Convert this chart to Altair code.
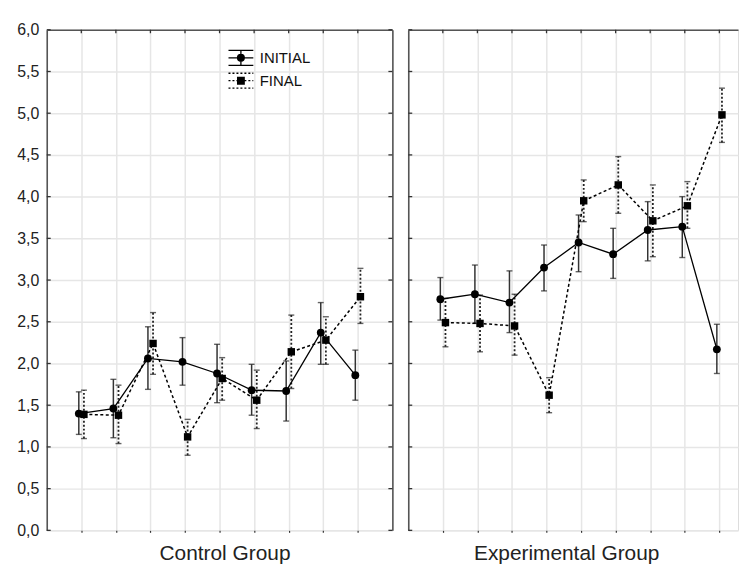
import altair as alt
import pandas as pd

# ---------------- data ----------------
steps = [1, 2, 3, 4, 5, 6, 7, 8, 9]
groups = ["Control Group", "Experimental Group"]
series_names = ["INITIAL", "FINAL"]

ctrl_init_mean = [1.40, 1.46, 2.06, 2.02, 1.88, 1.68, 1.67, 2.37, 1.86]
ctrl_init_lo = [1.15, 1.11, 1.69, 1.74, 1.53, 1.38, 1.31, 1.99, 1.56]
ctrl_init_hi = [1.66, 1.81, 2.44, 2.31, 2.23, 1.99, 2.03, 2.73, 2.16]

ctrl_final_mean = [1.39, 1.38, 2.24, 1.12, 1.82, 1.56, 2.14, 2.28, 2.80]
ctrl_final_lo = [1.10, 1.04, 1.87, 0.90, 1.56, 1.22, 1.70, 1.99, 2.48]
ctrl_final_hi = [1.68, 1.74, 2.61, 1.33, 2.07, 1.92, 2.58, 2.56, 3.14]

exp_init_mean = [2.77, 2.83, 2.73, 3.15, 3.45, 3.31, 3.60, 3.64, 2.17]
exp_init_lo = [2.52, 2.48, 2.37, 2.87, 3.10, 3.02, 3.23, 3.27, 1.88]
exp_init_hi = [3.03, 3.18, 3.11, 3.42, 3.78, 3.62, 3.94, 4.00, 2.47]

exp_final_mean = [2.49, 2.48, 2.45, 1.62, 3.95, 4.14, 3.71, 3.89, 4.98]
exp_final_lo = [2.20, 2.14, 2.10, 1.41, 3.70, 3.80, 3.28, 3.62, 4.65]
exp_final_hi = [2.78, 2.82, 2.83, 1.83, 4.20, 4.48, 4.14, 4.18, 5.30]

y_ticks = [0, 0.5, 1, 1.5, 2, 2.5, 3, 3.5, 4, 4.5, 5, 5.5, 6]


def frame(group, series, mean, lo, hi):
    return pd.DataFrame({"group": group, "series": series, "step": steps,
                         "mean": mean, "lo": lo, "hi": hi})


df = pd.concat([
    frame(groups[0], "INITIAL", ctrl_init_mean, ctrl_init_lo, ctrl_init_hi),
    frame(groups[0], "FINAL", ctrl_final_mean, ctrl_final_lo, ctrl_final_hi),
    frame(groups[1], "INITIAL", exp_init_mean, exp_init_lo, exp_init_hi),
    frame(groups[1], "FINAL", exp_final_mean, exp_final_lo, exp_final_hi),
], ignore_index=True)

xtick_df = pd.DataFrame({"step": steps})
ytick_df = pd.DataFrame({"v": y_ticks})

# ---------------- styling ----------------
FONT = "Liberation Sans"
GRID = "#e6e6e6"
DOM = "#555555"
STEP_PX = 34.8


def dotted(y, x0=-1.25, x1=1.25, d=0.2, g=0.2):
    parts = []
    x = x0
    while x < x1 - 1e-9:
        parts.append(f"M{x:.2f},{y}H{min(x + d, x1):.2f}")
        x += d + g
    return "".join(parts)


def hatch_circle(r=0.34, s=0.08):
    parts = [f"M{-r},0A{r},{r},0,1,0,{r},0A{r},{r},0,1,0,{-r},0Z"]
    y = -r + 0.04
    while y < r:
        h = max(r * r - y * y, 0) ** 0.5
        parts.append(f"M{-h:.3f},{y:.3f}H{h:.3f}")
        y += s
    return "".join(parts)


def hatch_square(r=0.33, s=0.08):
    parts = [f"M{-r},{-r}H{r}V{r}H{-r}Z"]
    y = -r
    while y <= r + 1e-9:
        parts.append(f"M{-r},{y:.3f}H{r}")
        y += s
    return "".join(parts)


INIT_PATH = ("M-1.25,-0.75H1.25M-1.25,0.75H1.25M-1.25,0H1.25M0,-0.75V0.75"
             + hatch_circle())
FINAL_PATH = (dotted(-0.75) + dotted(0) + dotted(0.75) + hatch_square())


def panel(group, width, first, title_x):
    xmax = width / STEP_PX
    base = alt.Chart(df).transform_filter(
        alt.datum.group == group
    ).transform_calculate(
        xp="datum.step + (datum.series == 'INITIAL' ? -0.072 : 0.076)"
    )
    xs = alt.Scale(domain=[0, xmax], nice=False, zero=False)
    ys = alt.Scale(domain=[0, 6], nice=False)

    xaxis = alt.Axis(values=steps, labels=False, ticks=True, tickSize=2,
                     tickColor="#333", tickWidth=1.2, domain=False,
                     grid=True, gridColor=GRID, gridWidth=1.5,
                     title=group, titleFont=FONT, titleFontSize=21,
                     titleFontWeight="normal", titleColor="#222",
                     titlePadding=10, titleX=title_x)
    yaxis = alt.Axis(values=y_ticks, labels=first, ticks=False,
                     labelExpr="replace(format(datum.value, '.1f'), '.', ',')",
                     labelFont=FONT, labelFontSize=16, labelColor="#222",
                     labelPadding=8, domain=True, domainColor=DOM,
                     domainWidth=1.6, grid=True, gridColor=GRID,
                     gridWidth=1.5, title=None)

    X0 = alt.X("xp:Q", scale=xs, axis=None)
    Y0 = alt.Y("mean:Q", scale=ys, axis=None)

    ini = base.transform_filter(alt.datum.series == "INITIAL")
    fin = base.transform_filter(alt.datum.series == "FINAL")

    # error bars
    bar_i = ini.mark_rule(color="#333", strokeWidth=1.5).encode(
        x=alt.X("xp:Q", scale=xs, axis=xaxis),
        y=alt.Y("lo:Q", scale=ys, axis=yaxis), y2="hi:Q")
    bar_f = fin.mark_rule(color="#222", strokeWidth=1.8, strokeDash=[2, 2]).encode(
        x=X0, y=alt.Y("lo:Q", scale=ys, axis=None), y2="hi:Q")
    caps = []
    for src in (ini, fin):
        for fld in ("lo", "hi"):
            caps.append(src.mark_tick(orient="horizontal", size=6, thickness=1.4,
                                      color="#222").encode(
                x=X0, y=alt.Y(f"{fld}:Q", scale=ys, axis=None)))

    line_i = ini.mark_line(color="black", strokeWidth=1.3).encode(
        x=X0, y=Y0, order="step:Q")
    line_f = fin.mark_line(color="black", strokeWidth=1.5,
                           strokeDash=[3, 2.5]).encode(x=X0, y=Y0, order="step:Q")
    pt_i = ini.mark_point(shape="circle", filled=True, color="black",
                          size=62, opacity=1).encode(x=X0, y=Y0)
    pt_f = fin.mark_point(shape="square", filled=True, color="black",
                          size=56, opacity=1).encode(x=X0, y=Y0)

    # border (top, and right for the first panel)
    border = base.mark_point(opacity=0).encode(
        x=alt.X("xp:Q", scale=xs,
                axis=alt.Axis(orient="top", labels=False, ticks=False,
                              domain=True, domainColor=DOM, domainWidth=1.6,
                              grid=False, title=None)),
        y=alt.Y("mean:Q", scale=ys,
                axis=(alt.Axis(orient="right", labels=False, ticks=False,
                               domain=True, domainColor=DOM, domainWidth=1.6,
                               grid=False, title=None) if first else None)))

    # inward tick marks on the frame
    top_ticks = alt.Chart(xtick_df).mark_rule(color="#333", strokeWidth=1.3).encode(
        x=alt.X("step:Q", scale=xs, axis=None),
        y=alt.value(0), y2=alt.value(3.5))
    left_ticks = alt.Chart(ytick_df).mark_rule(color="#333", strokeWidth=1.3).encode(
        y=alt.Y("v:Q", scale=ys, axis=None),
        x=alt.value(0), x2=alt.value(4))
    tick_layers = [top_ticks, left_ticks]
    if first:
        right_ticks = alt.Chart(ytick_df).mark_rule(color="#333", strokeWidth=1.3).encode(
            y=alt.Y("v:Q", scale=ys, axis=None),
            x=alt.value(width - 4), x2=alt.value(width))
        tick_layers.append(right_ticks)

    layers = ([bar_i, bar_f] + caps + [line_i, line_f, pt_i, pt_f, border]
              + tick_layers)

    if first:
        leg = base.mark_point(opacity=0, filled=False, size=400, color="black",
                              strokeWidth=1.3).encode(
            x=X0, y=Y0,
            shape=alt.Shape("series:N",
                            scale=alt.Scale(domain=series_names,
                                            range=[INIT_PATH, FINAL_PATH]),
                            legend=alt.Legend(title=None, orient="none",
                                              legendX=184.5, legendY=17.3,
                                              labelFont=FONT, labelFontSize=15,
                                              labelColor="#111", labelOffset=8,
                                              rowPadding=1, padding=0,
                                              symbolStrokeColor="black",
                                              symbolStrokeWidth=1.3,
                                              symbolOpacity=1, symbolSize=400)))
        layers.append(leg)

    return alt.layer(*layers).resolve_axis(x="independent", y="independent").properties(
        width=width, height=504)


left = panel(groups[0], 348, True, 179)
right = panel(groups[1], 332, False, 159)

chart = alt.hconcat(left, right, spacing=12).resolve_scale(
    x="independent", y="independent", shape="independent"
).properties(
    padding={"left": 8, "top": 11, "right": 0, "bottom": 0}
).configure_view(stroke=None).configure(font=FONT)

chart.save("out.html", embed_options={"renderer": "svg", "actions": False})
